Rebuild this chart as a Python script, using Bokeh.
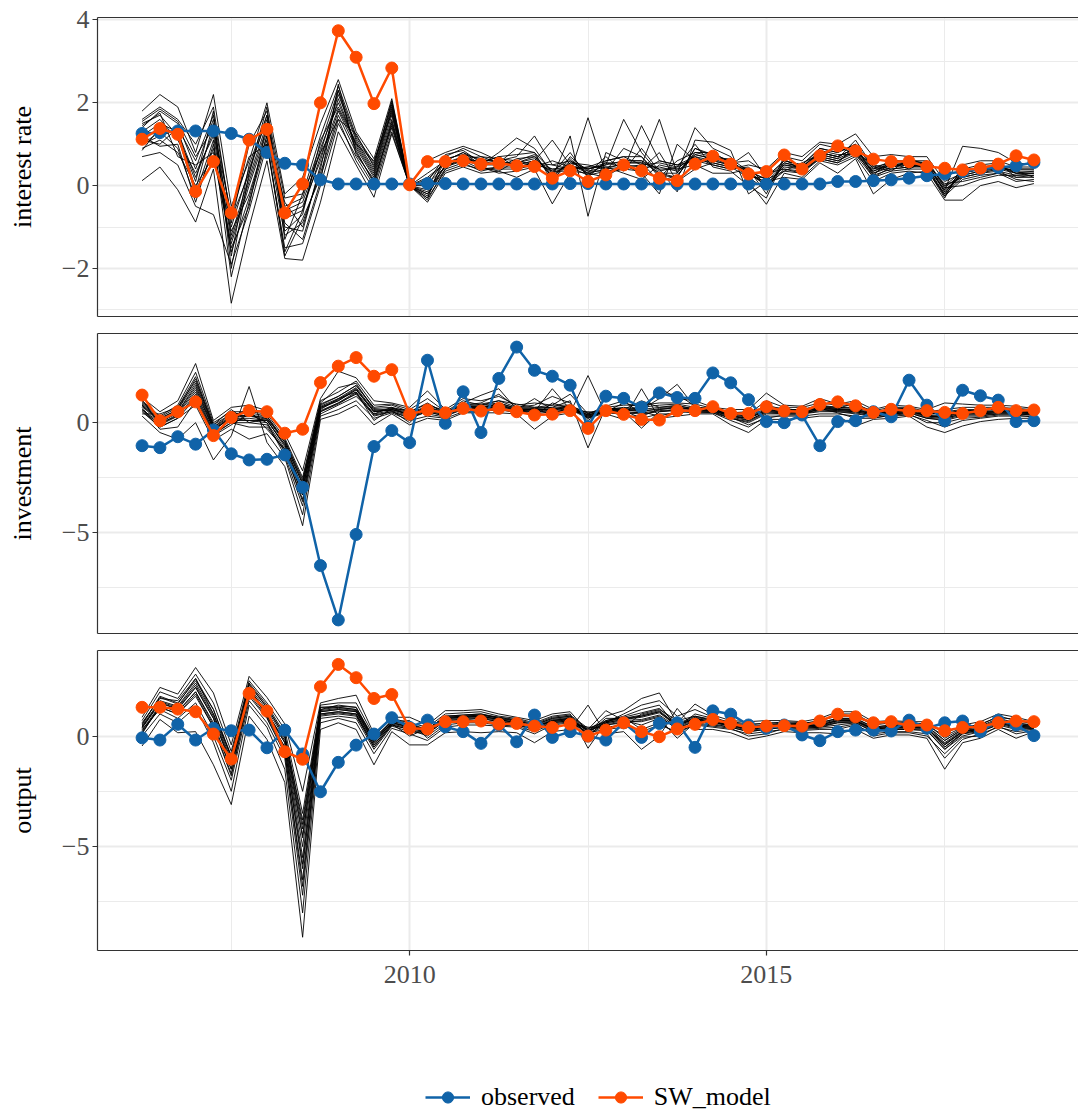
import numpy as np
from bokeh.plotting import figure
from bokeh.models import (Range1d, FixedTicker, LinearAxis, Legend, LegendItem,
                          CustomJSTickFormatter)
from bokeh.layouts import column
from bokeh.embed import file_html
from bokeh.resources import INLINE

# ---------------- data ----------------
quarters = np.arange(2006.25, 2018.76, 0.25)   # 2006Q2 ... 2018Q4 (51 quarters)

rate_observed = [1.26, 1.28, 1.32, 1.32, 1.32, 1.26, 1.12, 0.80, 0.54, 0.50, 0.14, 0.04, 0.04, 0.04, 0.04, 0.04,
                 0.05, 0.05, 0.04, 0.04, 0.04, 0.04, 0.04, 0.04, 0.05, 0.05, 0.04, 0.04, 0.04, 0.04, 0.04, 0.04, 0.04, 0.04,
                 0.04, 0.04, 0.04, 0.04, 0.04,
                 0.10, 0.10, 0.12, 0.14, 0.18, 0.24, 0.28, 0.34, 0.40, 0.44, 0.48, 0.56]
rate_sw = [1.12, 1.38, 1.24, -0.14, 0.58, -0.66, 1.10, 1.36, -0.66, 0.04, 2.00, 3.74, 3.10, 1.98, 2.84, 0.02,
           0.58, 0.58, 0.60, 0.52, 0.54, 0.48, 0.46, 0.18, 0.36, 0.10, 0.26, 0.50, 0.36, 0.18, 0.12, 0.52, 0.71, 0.52, 0.28,
           0.34, 0.74, 0.40, 0.72, 0.96, 0.84, 0.64, 0.58, 0.58, 0.46, 0.42, 0.38, 0.42, 0.52, 0.72, 0.62]

inv_observed = [-1.05, -1.14, -0.64, -0.98, -0.33, -1.42, -1.70, -1.67, -1.47, -2.95, -6.52, -9.00, -5.10, -1.09, -0.36, -0.91,
                2.85, -0.03, 1.41, -0.45, 2.02, 3.45, 2.39, 2.12, 1.71, -0.18, 1.21, 1.11, 0.70, 1.36, 1.15, 1.11, 2.27, 1.82, 1.05,
                0.05, 0.00, 0.35, -1.05, 0.05, 0.09, 0.50, 0.27, 1.94, 0.80, 0.09, 1.48, 1.23, 1.03, 0.05, 0.09]
inv_sw = [1.26, 0.09, 0.50, 0.95, -0.59, 0.24, 0.55, 0.50, -0.48, -0.30, 1.83, 2.58, 2.97, 2.12, 2.42, 0.39,
          0.58, 0.45, 0.65, 0.53, 0.65, 0.50, 0.35, 0.39, 0.55, -0.26, 0.55, 0.38, 0.15, 0.12, 0.55, 0.55, 0.73, 0.42, 0.42,
          0.73, 0.53, 0.50, 0.83, 0.95, 0.77, 0.47, 0.61, 0.53, 0.55, 0.47, 0.42, 0.55, 0.70, 0.55, 0.58]

out_observed = [-0.08, -0.18, 0.53, -0.18, 0.35, 0.24, 0.27, -0.53, 0.27, -0.81, -2.52, -1.19, -0.41, 0.09, 0.83, 0.39,
                0.72, 0.42, 0.20, -0.33, 0.50, -0.26, 0.95, -0.06, 0.20, 0.00, -0.18, 0.60, -0.06, 0.57, 0.60, -0.51, 1.14, 0.99, 0.50,
                0.35, 0.50, 0.05, -0.21, 0.20, 0.27, 0.27, 0.23, 0.72, 0.35, 0.60, 0.68, 0.20, 0.72, 0.50, 0.02]
out_sw = [1.30, 1.30, 1.22, 1.10, 0.09, -1.04, 1.93, 1.13, -0.71, -1.05, 2.23, 3.24, 2.64, 1.70, 1.88, 0.35,
          0.32, 0.65, 0.65, 0.68, 0.54, 0.57, 0.45, 0.39, 0.54, 0.00, 0.27, 0.60, 0.20, -0.03, 0.32, 0.53, 0.75, 0.57, 0.39,
          0.45, 0.47, 0.45, 0.68, 0.99, 0.87, 0.60, 0.65, 0.47, 0.50, 0.24, 0.39, 0.42, 0.60, 0.68, 0.65]

# simulated draws: one row per quarter, one column per draw (outer draws)
rate_draws = [
    [1.8, 0.12, 1.4, 1.0, 1.6, 0.7, 1.2, 0.9, 1.5, 1.1],
    [2.2, 0.45, 1.8, 1.3, 1.9, 0.8, 1.5, 1.1, 1.7, 1.0],
    [1.9, -0.1, 1.5, 0.9, 1.6, 0.5, 1.3, 0.8, 1.2, 1.4],
    [0.8, -0.88, 0.4, -0.3, 1.0, -0.5, 0.2, 0.0, -0.2, 0.6],
    [2.2, 0.4, 1.6, 0.9, 1.9, -0.7, 1.3, 0.7, 1.1, 1.7],
    [-0.5, -2.84, -1.2, -1.6, -0.9, -1.9, -1.0, -1.4, -2.2, -0.8],
    [0.6, -1.0, 0.2, -0.3, 1.0, -0.6, 0.4, 0.0, -0.4, 0.3],
    [2.0, 0.6, 1.5, 1.2, 1.8, 1.0, 1.6, 1.3, 1.1, 1.7],
    [-0.2, -1.76, -0.6, -1.2, -0.3, -1.5, -0.8, -1.0, -1.7, -0.5],
    [0.2, -1.8, -0.4, -0.9, -0.2, -1.4, -0.6, -1.1, -0.8, -0.3],
    [1.5, -0.4, 0.8, 0.3, 1.2, 0.0, 0.9, 0.5, 0.2, 1.0],
    [2.56, 1.3, 2.2, 1.7, 2.4, 1.5, 2.0, 1.8, 1.6, 2.3],
    [1.3, 0.5, 1.1, 0.8, 1.2, 0.7, 1.0, 0.9, 0.6, 1.15],
    [0.65, -0.28, 0.4, 0.1, 0.55, 0.0, 0.3, 0.2, -0.1, 0.5],
    [2.1, 1.25, 1.9, 1.5, 2.0, 1.4, 1.8, 1.6, 1.3, 1.95],
    [0.0, 0.0, 0.0, 0.0, 0.0, 0.0, 0.0, 0.0, 0.0, 0.0],
    [0.6, -0.4, 0.3, -0.2, 0.1, -0.3, 0.2, -0.1, 0.0, -0.35],
    [0.8, 0.3, 0.6, 0.5, 0.7, 0.35, 0.55, 0.45, 0.65, 0.4],
    [0.95, 0.45, 0.8, 0.6, 0.9, 0.5, 0.7, 0.65, 0.75, 0.55],
    [0.8, 0.3, 0.5, 0.6, 0.7, 0.4, 0.55, 0.45, 0.65, 0.35],
    [0.6, 0.35, 0.8, 0.5, 0.65, 0.4, 0.7, 0.3, 0.55, 0.45],
    [0.7, 0.2, 1.15, 0.5, 0.6, 0.4, 0.75, 0.35, 0.55, 0.45],
    [1.2, 0.4, 0.9, 0.6, 0.75, 0.5, 0.8, 0.45, 0.7, 0.55],
    [0.5, -0.44, 0.3, 1.1, 0.2, 0.4, 0.1, 0.6, 0.25, 0.35],
    [0.6, 0.3, 0.8, 0.5, 1.2, 0.4, 0.7, 0.45, 0.55, 0.35],
    [0.4, 1.64, 0.2, 0.3, -0.74, 0.45, 0.35, 0.25, 0.5, 0.3],
    [0.5, 0.3, 0.6, 0.2, 0.8, 0.45, 0.35, 0.55, 0.4, 0.7],
    [1.6, 0.4, 0.7, 0.5, 0.6, 0.3, 0.9, 0.45, 0.55, 0.35],
    [0.8, 1.45, 0.5, 0.3, 0.6, 0.15, 0.7, 0.4, 0.55, 0.9],
    [0.3, 0.6, 1.6, -0.2, 0.4, 0.5, 0.2, 0.8, 0.1, 0.35],
    [0.2, 0.5, 0.3, 1.0, -0.15, 0.4, 0.6, 0.1, 0.25, 0.45],
    [0.9, 0.7, 1.4, 0.6, 1.1, 0.5, 0.8, 0.4, 0.75, 1.0],
    [0.7, 0.5, 0.9, 0.6, 1.05, 0.3, 0.8, 0.55, 0.65, 0.45],
    [0.6, 0.4, 0.7, 0.5, 0.85, 0.3, 0.55, 0.45, 0.65, 0.35],
    [0.3, 0.5, 0.1, 0.8, -0.2, 0.4, 0.6, 0.2, 0.35, 0.0],
    [0.0, 0.4, -0.45, 0.2, 0.1, -0.2, 0.3, -0.1, 0.15, -0.3],
    [0.5, 0.8, 0.3, 0.6, 0.2, 0.7, 0.4, 0.55, 0.35, 0.65],
    [0.4, 0.7, 0.2, 0.5, 0.15, 0.6, 0.3, 0.45, 0.55, 0.35],
    [0.8, 1.05, 0.6, 0.9, 0.55, 1.0, 0.7, 0.85, 0.75, 0.65],
    [0.7, 1.0, 0.5, 0.8, 0.3, 0.9, 0.6, 0.75, 0.65, 0.55],
    [0.9, 1.25, 0.7, 1.0, 0.65, 0.8, 0.85, 0.75, 1.1, 0.95],
    [0.3, 0.7, 0.1, 0.4, -0.2, 0.5, 0.2, 0.35, 0.45, 0.25],
    [0.5, 0.75, 0.3, 0.6, 0.15, 0.4, 0.45, 0.55, 0.35, 0.65],
    [0.5, 0.7, 0.35, 0.6, 0.3, 0.45, 0.55, 0.4, 0.65, 0.5],
    [0.45, 0.7, 0.3, 0.55, 0.35, 0.5, 0.4, 0.6, 0.5, 0.45],
    [-0.1, 0.1, -0.35, 0.0, -0.2, 0.05, -0.3, -0.05, -0.15, -0.25],
    [0.95, 0.3, -0.35, 0.2, 0.4, 0.1, 0.5, 0.0, 0.25, 0.35],
    [0.9, 0.4, 0.0, 0.3, 0.5, 0.2, 0.6, 0.15, 0.35, 0.45],
    [0.8, 0.5, 0.1, 0.4, 0.55, 0.3, 0.6, 0.25, 0.45, 0.35],
    [0.55, 0.3, -0.05, 0.4, 0.2, 0.1, 0.45, 0.25, 0.35, 0.15],
    [0.5, 0.35, 0.05, 0.4, 0.25, 0.15, 0.45, 0.3, 0.2, 0.1],
]

# draws near the centre of the bundle
rate_draws_core = [
    [1.3, 1.0, 1.45, 0.85, 1.2, 1.55], [1.6, 1.2, 1.75, 1.4, 0.95, 1.85], [1.1, 1.35, 0.7, 1.25, 1.0, 1.55],
    [0.3, -0.1, 0.5, 0.1, -0.4, 0.7], [1.2, 1.5, 0.8, 1.8, 1.0, 1.4], [-1.3, -1.7, -1.1, -2.0, -1.5, -0.7],
    [0.1, 0.5, -0.2, 0.3, -0.5, 0.7], [1.4, 1.7, 1.2, 1.9, 1.5, 1.0], [-0.7, -1.1, -0.4, -1.3, -0.9, -1.6],
    [-0.5, -0.7, -1.0, -0.2, -1.3, -0.6], [0.6, 1.1, 0.4, 0.8, 0.1, 0.7], [2.1, 1.9, 2.3, 1.6, 2.45, 1.85],
    [0.95, 1.05, 0.85, 1.25, 0.75, 1.0], [0.25, 0.35, 0.05, 0.45, 0.15, 0.6], [1.7, 1.85, 1.55, 2.05, 1.45, 1.75],
    [0.0, 0.0, 0.0, 0.0, 0.0, 0.0], [-0.25, -0.15, 0.05, -0.3, 0.15, -0.2], [0.5, 0.6, 0.45, 0.75, 0.55, 0.4],
    [0.7, 0.8, 0.6, 0.85, 0.65, 0.75], [0.5, 0.6, 0.4, 0.55, 0.7, 0.45], [0.5, 0.6, 0.45, 0.7, 0.55, 0.35],
    [0.55, 0.5, 0.65, 0.45, 0.9, 0.6], [0.65, 0.6, 0.7, 0.55, 0.8, 0.5], [0.3, 0.4, 0.2, 0.5, 0.35, 0.15],
    [0.5, 0.45, 0.6, 0.4, 0.65, 0.55], [0.35, 0.4, 0.3, 0.45, 0.25, 0.4], [0.45, 0.5, 0.4, 0.6, 0.35, 0.55],
    [0.5, 0.6, 0.45, 0.7, 0.4, 0.55], [0.45, 0.6, 0.5, 0.7, 0.35, 0.55], [0.45, 0.3, 0.55, 0.25, 0.6, 0.4],
    [0.35, 0.3, 0.45, 0.2, 0.5, 0.4], [0.7, 0.8, 0.65, 0.9, 0.6, 0.75], [0.6, 0.7, 0.55, 0.75, 0.5, 0.65],
    [0.5, 0.55, 0.45, 0.6, 0.4, 0.5], [0.3, 0.25, 0.4, 0.2, 0.45, 0.35], [0.05, 0.1, -0.05, 0.2, 0.0, 0.15],
    [0.45, 0.5, 0.4, 0.6, 0.35, 0.55], [0.4, 0.45, 0.35, 0.5, 0.3, 0.45], [0.75, 0.8, 0.7, 0.9, 0.65, 0.8],
    [0.65, 0.7, 0.6, 0.8, 0.55, 0.7], [0.85, 0.9, 0.8, 1.0, 0.75, 0.9], [0.3, 0.35, 0.25, 0.45, 0.2, 0.4],
    [0.45, 0.5, 0.4, 0.55, 0.35, 0.5], [0.5, 0.55, 0.45, 0.6, 0.4, 0.55], [0.5, 0.55, 0.45, 0.6, 0.4, 0.5],
    [-0.1, -0.15, -0.2, 0.0, -0.25, -0.05], [0.25, 0.3, 0.2, 0.35, 0.15, 0.3], [0.35, 0.4, 0.3, 0.45, 0.25, 0.4],
    [0.4, 0.45, 0.35, 0.5, 0.3, 0.45], [0.3, 0.35, 0.25, 0.4, 0.2, 0.3], [0.3, 0.35, 0.25, 0.4, 0.2, 0.3],
]

inv_draws = [
    [1.15, 0.3, 0.9, 0.6, 1.0, 0.5, 0.8, 0.7, 0.4, 1.05],
    [0.5, -0.45, 0.2, 0.0, 0.3, -0.2, 0.1, -0.3, 0.4, -0.1],
    [1.0, -0.75, 0.6, 0.3, 0.8, 0.2, 0.5, -0.2, 0.7, 0.4],
    [2.7, 0.0, 2.0, 1.2, 2.3, 0.8, 1.6, 1.0, 1.9, 1.4],
    [0.1, -1.7, -0.2, -0.5, 0.0, -0.8, -0.3, -0.6, -0.1, -0.4],
    [0.7, -0.6, 0.4, 0.0, 0.5, -0.3, 0.2, -0.1, 0.6, 0.3],
    [0.8, 1.65, 0.3, -0.2, 0.5, -0.75, 0.1, 0.4, 0.0, 0.6],
    [0.55, -0.9, 0.3, -0.2, 0.4, -0.5, 0.1, 0.0, 0.2, -0.3],
    [-0.5, -2.0, -0.9, -1.3, -0.7, -1.6, -1.0, -1.5, -0.8, -1.2],
    [-2.2, -4.7, -2.8, -3.5, -2.5, -4.2, -3.0, -3.8, -2.6, -3.3],
    [1.1, 0.15, 0.8, 0.5, 1.0, 0.3, 0.7, 0.4, 0.9, 0.6],
    [2.35, 0.4, 1.2, 0.9, 1.4, 0.6, 1.0, 0.8, 1.6, 1.1],
    [2.05, 0.8, 1.7, 1.3, 1.9, 1.0, 1.5, 1.2, 1.8, 1.4],
    [1.0, -0.1, 0.7, 0.3, 0.8, 0.2, 0.5, 0.4, 0.6, 0.1],
    [0.9, 0.4, 0.8, 0.5, 0.85, 0.45, 0.6, 0.7, 0.55, 0.65],
    [0.7, -0.1, 0.5, 0.2, 0.6, 0.1, 0.4, 0.3, 0.0, 0.55],
    [1.45, 0.2, 0.9, 0.5, 1.1, 0.3, 0.7, 0.6, 0.8, 0.4],
    [0.6, 0.1, 0.4, 0.3, 0.5, 0.2, 0.45, 0.35, 0.55, 0.25],
    [1.1, 0.45, 0.9, 0.6, 1.0, 0.5, 0.8, 0.7, 0.65, 0.75],
    [1.0, 0.45, 1.25, 0.6, 0.8, 0.5, 0.9, 0.7, 0.65, 0.75],
    [1.2, 0.45, 1.55, 0.7, 1.0, 0.6, 1.3, 0.8, 0.9, 0.65],
    [0.8, 0.4, 0.6, 0.5, 0.85, 0.45, 0.7, 0.55, 0.65, 0.5],
    [0.9, -0.3, 1.1, 0.5, 0.7, 0.4, 0.8, 0.6, 0.3, 0.65],
    [0.8, 0.3, 0.6, 1.55, 0.7, 0.5, 1.2, 0.4, 0.9, 0.55],
    [1.3, 0.45, 0.8, 0.6, 1.0, 0.5, 0.9, 0.7, 0.65, 0.75],
    [0.4, 2.15, 0.2, 0.3, -1.15, 0.5, 0.1, 0.35, 0.25, 0.45],
    [0.75, 0.4, 0.6, 0.5, 0.7, 0.45, 0.65, 0.55, 0.5, 0.6],
    [1.0, 0.15, 0.7, 0.5, 0.8, 0.4, 0.6, 0.3, 0.9, 0.55],
    [0.4, 1.55, 0.6, -0.25, 0.8, 0.5, 1.0, 0.3, 0.7, 0.2],
    [1.6, 0.2, 1.1, 0.5, 0.9, 0.3, 0.7, 0.6, 1.3, 0.4],
    [1.1, 0.3, 1.75, 0.6, 0.9, 0.5, 0.8, 0.7, 1.3, 0.4],
    [1.0, 0.4, 0.7, 0.5, 0.85, 0.45, 0.6, 0.55, 0.75, 0.65],
    [0.7, 0.4, 0.6, 0.5, 0.65, 0.45, 0.55, 0.6, 0.5, 0.7],
    [0.6, -0.1, 0.4, 0.2, 0.5, 0.1, 0.3, 0.35, 0.45, 0.25],
    [0.6, -0.45, 0.3, 0.0, 0.4, -0.2, 0.2, 0.1, 0.5, -0.1],
    [1.35, 0.15, 0.8, 0.4, 1.0, 0.3, 0.6, 0.5, 0.7, 0.2],
    [0.8, 0.15, 0.6, 0.4, 0.7, 0.3, 0.5, 0.45, 0.65, 0.35],
    [0.75, 0.2, 0.6, 0.4, 0.7, 0.3, 0.5, 0.45, 0.55, 0.35],
    [1.1, 0.3, 0.8, 0.5, 0.9, 0.4, 0.7, 0.6, 0.75, 0.65],
    [0.85, 0.3, 0.7, 0.5, 0.8, 0.4, 0.6, 0.55, 0.65, 0.45],
    [1.0, -0.15, 0.7, 0.4, 0.8, 0.3, 0.6, 0.5, 0.9, 0.2],
    [0.6, 0.15, 0.5, 0.3, 0.55, 0.25, 0.4, 0.35, 0.45, 0.2],
    [0.8, 0.2, 0.6, 0.4, 0.7, 0.3, 0.5, 0.45, 0.65, 0.35],
    [0.75, 0.3, 0.6, 0.45, 0.7, 0.35, 0.55, 0.5, 0.65, 0.4],
    [0.6, -0.2, 0.4, 0.2, 0.5, 0.1, 0.3, 0.35, 0.45, 0.0],
    [0.9, -0.45, 0.5, 0.1, 0.6, -0.2, 0.3, 0.2, 0.4, 0.0],
    [0.85, -0.15, 0.6, 0.3, 0.7, 0.1, 0.5, 0.4, 0.55, 0.2],
    [0.8, 0.05, 0.6, 0.3, 0.7, 0.2, 0.5, 0.4, 0.55, 0.25],
    [0.8, 0.15, 0.6, 0.4, 0.7, 0.3, 0.5, 0.45, 0.65, 0.35],
    [0.75, 0.2, 0.55, 0.4, 0.65, 0.3, 0.5, 0.45, 0.6, 0.35],
    [0.65, 0.2, 0.5, 0.35, 0.6, 0.3, 0.45, 0.4, 0.55, 0.25],
]

inv_draws_core = [
    [0.75, 0.85, 0.6, 0.95, 0.55, 0.8], [0.0, 0.15, -0.1, 0.25, -0.2, 0.05], [0.45, 0.6, 0.3, 0.7, 0.2, 0.5],
    [1.5, 1.8, 1.3, 2.1, 1.1, 1.7], [-0.3, -0.2, -0.45, -0.1, -0.55, -0.25], [0.2, 0.3, 0.1, 0.4, 0.0, 0.25],
    [0.2, 0.35, 0.1, 0.45, 0.0, 0.3], [0.1, 0.2, 0.0, 0.3, -0.1, 0.15], [-1.0, -0.9, -1.2, -0.8, -1.3, -1.1],
    [-3.0, -2.8, -3.3, -2.7, -3.6, -3.1], [0.65, 0.75, 0.55, 0.85, 0.5, 0.7], [1.0, 1.1, 0.9, 1.2, 0.85, 1.05],
    [1.5, 1.6, 1.4, 1.7, 1.35, 1.55], [0.5, 0.55, 0.4, 0.65, 0.35, 0.5], [0.6, 0.65, 0.55, 0.7, 0.5, 0.6],
    [0.35, 0.45, 0.3, 0.5, 0.25, 0.4], [0.65, 0.75, 0.55, 0.85, 0.5, 0.7], [0.4, 0.45, 0.35, 0.5, 0.3, 0.4],
    [0.75, 0.8, 0.7, 0.85, 0.65, 0.75], [0.75, 0.8, 0.7, 0.85, 0.65, 0.7], [0.8, 0.9, 0.75, 1.0, 0.7, 0.85],
    [0.6, 0.65, 0.55, 0.7, 0.5, 0.6], [0.6, 0.65, 0.55, 0.7, 0.5, 0.6], [0.6, 0.7, 0.55, 0.8, 0.5, 0.65],
    [0.7, 0.75, 0.65, 0.8, 0.6, 0.7], [0.3, 0.35, 0.25, 0.4, 0.2, 0.35], [0.55, 0.6, 0.5, 0.65, 0.45, 0.55],
    [0.55, 0.6, 0.5, 0.65, 0.45, 0.6], [0.55, 0.6, 0.45, 0.7, 0.4, 0.5], [0.6, 0.7, 0.55, 0.8, 0.5, 0.65],
    [0.7, 0.75, 0.6, 0.85, 0.55, 0.7], [0.6, 0.65, 0.55, 0.7, 0.5, 0.6], [0.55, 0.6, 0.5, 0.65, 0.45, 0.55],
    [0.3, 0.35, 0.25, 0.4, 0.2, 0.3], [0.2, 0.25, 0.1, 0.3, 0.05, 0.2], [0.55, 0.6, 0.5, 0.65, 0.45, 0.55],
    [0.5, 0.55, 0.45, 0.6, 0.4, 0.5], [0.5, 0.55, 0.45, 0.6, 0.4, 0.5], [0.65, 0.7, 0.6, 0.75, 0.55, 0.65],
    [0.6, 0.65, 0.55, 0.7, 0.5, 0.6], [0.55, 0.6, 0.5, 0.65, 0.45, 0.55], [0.4, 0.45, 0.35, 0.5, 0.3, 0.4],
    [0.5, 0.55, 0.45, 0.6, 0.4, 0.5], [0.55, 0.6, 0.5, 0.65, 0.45, 0.55], [0.3, 0.35, 0.25, 0.4, 0.2, 0.3],
    [0.3, 0.35, 0.2, 0.45, 0.15, 0.25], [0.45, 0.5, 0.4, 0.55, 0.35, 0.45], [0.45, 0.5, 0.4, 0.55, 0.35, 0.45],
    [0.5, 0.55, 0.45, 0.6, 0.4, 0.5], [0.5, 0.55, 0.45, 0.6, 0.4, 0.5], [0.45, 0.5, 0.4, 0.55, 0.35, 0.45],
]

out_draws = [
    [0.85, -0.45, 0.5, 0.2, 0.7, 0.0, 0.4, 0.3, 0.6, 0.1],
    [2.2, 0.75, 1.8, 1.3, 2.0, 1.0, 1.5, 1.2, 1.7, 1.4],
    [1.9, 0.15, 1.5, 1.0, 1.7, 0.6, 1.2, 0.8, 1.6, 1.1],
    [3.1, 0.2, 2.5, 1.8, 2.8, 1.3, 2.2, 1.5, 2.6, 2.0],
    [1.95, -1.3, 1.2, 0.4, 1.5, -0.3, 0.8, 0.0, 1.0, 0.5],
    [-0.4, -3.1, -1.0, -1.8, -0.7, -2.5, -1.3, -2.0, -0.9, -1.5],
    [2.7, 0.9, 2.3, 1.8, 2.5, 1.4, 2.0, 1.6, 2.4, 2.1],
    [1.75, -0.15, 1.3, 0.8, 1.5, 0.4, 1.0, 0.6, 1.4, 0.9],
    [0.55, -2.1, 0.0, -0.8, 0.3, -1.5, -0.3, -1.0, 0.1, -0.5],
    [-2.5, -9.1, -4.5, -6.5, -3.5, -8.0, -5.5, -7.2, -4.0, -6.0],
    [1.5, 0.3, 1.2, 0.9, 1.4, 0.6, 1.1, 0.8, 1.3, 1.0],
    [1.7, 0.6, 1.4, 1.0, 1.5, 0.8, 1.2, 0.9, 1.3, 1.1],
    [1.85, 0.3, 1.3, 0.9, 1.5, 0.6, 1.1, 0.8, 1.2, 1.0],
    [0.1, -1.3, -0.2, -0.5, 0.0, -0.8, -0.3, -0.6, -0.1, -0.4],
    [0.85, 0.2, 0.7, 0.5, 0.8, 0.35, 0.6, 0.45, 0.65, 0.55],
    [0.85, -0.4, 0.5, 0.3, 0.6, 0.1, 0.4, 0.2, 0.7, 0.0],
    [0.5, -0.4, 0.3, 0.0, 0.4, -0.2, 0.2, 0.1, -0.1, 0.35],
    [1.15, 0.15, 0.9, 0.6, 1.0, 0.4, 0.8, 0.7, 0.5, 0.85],
    [1.15, 0.2, 0.95, 0.7, 1.05, 0.5, 0.85, 0.75, 0.6, 0.9],
    [1.2, 0.15, 1.0, 0.7, 1.1, 0.5, 0.9, 0.8, 0.6, 0.95],
    [1.0, 0.2, 0.8, 0.6, 0.9, 0.45, 0.75, 0.65, 0.5, 0.85],
    [0.85, 0.15, 0.7, 0.5, 0.8, 0.4, 0.6, 0.55, 0.45, 0.75],
    [0.7, -0.3, 0.5, 0.3, 0.6, 0.1, 0.4, 0.45, 0.2, 0.55],
    [1.0, 0.2, 0.8, 0.6, 0.9, 0.5, 0.7, 0.65, 0.55, 0.85],
    [1.1, 0.3, 0.9, 0.7, 1.0, 0.6, 0.8, 0.75, 0.65, 0.95],
    [0.2, 1.4, 0.0, 0.3, -0.55, 0.4, 0.1, 0.25, 0.15, 0.35],
    [0.9, 0.1, 0.7, 1.15, 0.6, 0.4, 0.8, 0.5, 0.3, 0.65],
    [1.15, 0.2, 0.9, 0.7, 1.0, 0.5, 0.8, 0.6, 0.4, 0.85],
    [1.7, -0.6, 1.2, 0.5, 1.4, 0.2, 0.9, 0.7, 1.0, 0.3],
    [1.95, 0.0, 1.4, 0.8, 1.6, 0.5, 1.1, 0.9, 1.2, 0.6],
    [0.6, 1.25, 0.4, -0.1, 0.9, 0.2, 0.5, 0.3, 0.7, 0.1],
    [1.45, 0.3, 1.0, 0.6, 1.2, 0.5, 0.8, 0.7, 0.9, 0.55],
    [0.95, 0.3, 0.8, 0.5, 0.85, 0.4, 0.6, 0.65, 0.7, 0.45],
    [0.7, 0.15, 0.55, 0.4, 0.6, 0.3, 0.5, 0.45, 0.65, 0.35],
    [0.65, -0.15, 0.45, 0.2, 0.5, 0.1, 0.3, 0.35, 0.55, 0.0],
    [0.7, 0.0, 0.5, 0.3, 0.6, 0.2, 0.4, 0.45, 0.55, 0.1],
    [0.7, 0.2, 0.55, 0.4, 0.6, 0.3, 0.5, 0.45, 0.65, 0.35],
    [0.65, 0.15, 0.5, 0.35, 0.55, 0.25, 0.45, 0.4, 0.6, 0.3],
    [0.8, 0.15, 0.6, 0.4, 0.7, 0.3, 0.5, 0.45, 0.65, 0.35],
    [1.1, 0.1, 0.8, 0.5, 0.9, 0.3, 0.7, 0.6, 1.0, 0.4],
    [1.1, 0.3, 0.8, 0.6, 0.9, 0.5, 0.7, 0.65, 1.0, 0.55],
    [0.65, -0.1, 0.4, 0.2, 0.5, 0.1, 0.3, 0.35, 0.55, 0.0],
    [0.7, 0.05, 0.5, 0.3, 0.6, 0.2, 0.4, 0.45, 0.65, 0.15],
    [0.65, 0.05, 0.5, 0.3, 0.55, 0.2, 0.4, 0.45, 0.6, 0.15],
    [0.65, -0.1, 0.45, 0.25, 0.5, 0.1, 0.35, 0.4, 0.55, 0.0],
    [0.1, -1.5, -0.2, -0.6, 0.0, -1.0, -0.4, -0.5, -0.1, -0.8],
    [0.5, -0.3, 0.3, 0.0, 0.4, -0.15, 0.2, 0.1, 0.35, -0.05],
    [0.65, -0.1, 0.45, 0.2, 0.5, 0.1, 0.35, 0.3, 0.55, 0.0],
    [1.0, 0.3, 0.8, 0.5, 0.9, 0.4, 0.7, 0.6, 0.85, 0.45],
    [0.85, -0.1, 0.6, 0.3, 0.7, 0.2, 0.5, 0.4, 0.75, 0.1],
    [0.65, 0.2, 0.5, 0.35, 0.55, 0.3, 0.45, 0.4, 0.6, 0.25],
]

out_draws_core = [
    [0.35, 0.45, 0.25, 0.55, 0.15, 0.4], [1.5, 1.6, 1.4, 1.75, 1.3, 1.55], [1.25, 1.35, 1.1, 1.45, 1.0, 1.3],
    [2.2, 2.4, 2.0, 2.6, 1.9, 2.3], [0.8, 1.0, 0.6, 1.2, 0.4, 0.9], [-1.3, -1.1, -1.5, -0.9, -1.7, -1.2],
    [2.1, 2.2, 2.0, 2.35, 1.9, 2.15], [1.1, 1.2, 0.95, 1.3, 0.85, 1.05], [-0.3, -0.1, -0.5, 0.0, -0.7, -0.2],
    [-5.0, -4.2, -5.8, -3.8, -6.8, -4.6], [1.1, 1.2, 1.0, 1.3, 0.95, 1.15], [1.2, 1.3, 1.1, 1.35, 1.05, 1.25],
    [1.1, 1.2, 1.0, 1.3, 0.95, 1.15], [-0.3, -0.2, -0.4, -0.1, -0.5, -0.25], [0.6, 0.65, 0.55, 0.7, 0.5, 0.6],
    [0.4, 0.5, 0.35, 0.55, 0.3, 0.45], [0.2, 0.25, 0.15, 0.3, 0.1, 0.2], [0.8, 0.85, 0.75, 0.9, 0.7, 0.8],
    [0.85, 0.9, 0.8, 0.95, 0.75, 0.85], [0.9, 0.95, 0.85, 1.0, 0.8, 0.9], [0.75, 0.8, 0.7, 0.85, 0.65, 0.75],
    [0.6, 0.65, 0.55, 0.7, 0.5, 0.6], [0.4, 0.45, 0.35, 0.5, 0.3, 0.4], [0.7, 0.75, 0.65, 0.8, 0.6, 0.7],
    [0.8, 0.85, 0.75, 0.9, 0.7, 0.8], [0.2, 0.25, 0.1, 0.3, 0.05, 0.2], [0.6, 0.65, 0.55, 0.7, 0.5, 0.6],
    [0.75, 0.8, 0.7, 0.85, 0.65, 0.75], [0.85, 0.95, 0.75, 1.05, 0.65, 0.9], [1.05, 1.15, 0.95, 1.25, 0.85, 1.1],
    [0.45, 0.5, 0.4, 0.55, 0.35, 0.45], [0.8, 0.85, 0.75, 0.9, 0.7, 0.8], [0.65, 0.7, 0.6, 0.75, 0.55, 0.65],
    [0.5, 0.55, 0.45, 0.6, 0.4, 0.5], [0.3, 0.35, 0.25, 0.4, 0.2, 0.3], [0.4, 0.45, 0.35, 0.5, 0.3, 0.4],
    [0.5, 0.55, 0.45, 0.6, 0.4, 0.5], [0.45, 0.5, 0.4, 0.55, 0.35, 0.45], [0.5, 0.55, 0.45, 0.6, 0.4, 0.5],
    [0.7, 0.75, 0.65, 0.8, 0.6, 0.7], [0.7, 0.75, 0.65, 0.8, 0.6, 0.7], [0.3, 0.35, 0.25, 0.4, 0.2, 0.3],
    [0.4, 0.45, 0.35, 0.5, 0.3, 0.4], [0.4, 0.45, 0.35, 0.5, 0.3, 0.4], [0.35, 0.4, 0.3, 0.45, 0.25, 0.35],
    [-0.4, -0.3, -0.5, -0.2, -0.6, -0.35], [0.2, 0.25, 0.15, 0.3, 0.1, 0.2], [0.3, 0.35, 0.25, 0.4, 0.2, 0.3],
    [0.65, 0.7, 0.6, 0.75, 0.55, 0.65], [0.45, 0.5, 0.4, 0.55, 0.35, 0.45], [0.4, 0.45, 0.35, 0.5, 0.3, 0.4],
]

x_major = [2010, 2015]
x_minor = [2007.5, 2012.5, 2017.5]

# ---------------- style ----------------
FONT = "Liberation Serif"
BLUE = "#1063A8"
ORANGE = "#FF4A00"
GRID = "#EBEBEB"
BORDER = "#333333"
TICKTXT = "#4D4D4D"
FS = "26px"
W = 1078
LEFT = 97

minus_fmt = "return tick < 0 ? '\u2212' + (-tick) : '' + tick;"


def border_axis():
    return LinearAxis(ticker=FixedTicker(ticks=[]),
                      major_tick_line_color=None, minor_tick_line_color=None,
                      major_label_standoff=0, axis_line_color=BORDER, axis_line_width=1.2)


def panel(label, y_lo, y_hi, majors, minors, obs, sw, draws, core, height, mt, mb, last):
    p = figure(width=W, height=height, x_range=Range1d(2005.625, 2019.375),
               y_range=Range1d(y_lo, y_hi), output_backend="svg", toolbar_location=None,
               min_border_left=LEFT, min_border_right=0, min_border_top=mt, min_border_bottom=mb)
    p.outline_line_color = None
    xt = FixedTicker(ticks=x_major, minor_ticks=x_minor)
    yt = FixedTicker(ticks=majors, minor_ticks=minors)
    p.xgrid.ticker = xt
    p.ygrid.ticker = yt
    for g in (p.xgrid[0], p.ygrid[0]):
        g.grid_line_color = GRID
        g.grid_line_width = 2
        g.minor_grid_line_color = GRID
        g.minor_grid_line_width = 1

    ya = p.yaxis[0]
    ya.ticker = yt
    ya.formatter = CustomJSTickFormatter(code=minus_fmt)
    ya.axis_label = label
    ya.axis_label_text_font = FONT
    ya.axis_label_text_font_size = FS
    ya.axis_label_text_font_style = "normal"
    ya.axis_label_text_color = "black"
    ya.axis_label_standoff = 22
    ya.major_label_text_font = FONT
    ya.major_label_text_font_size = FS
    ya.major_label_text_color = TICKTXT
    ya.major_label_standoff = 3
    ya.major_tick_in = 0
    ya.major_tick_out = 5
    ya.major_tick_line_color = BORDER
    ya.major_tick_line_width = 1.2
    ya.minor_tick_line_color = None
    ya.axis_line_color = BORDER
    ya.axis_line_width = 1.2

    xa = p.xaxis[0]
    xa.minor_tick_line_color = None
    xa.axis_line_color = BORDER
    xa.axis_line_width = 1.2
    if last:
        xa.ticker = xt
        xa.formatter = CustomJSTickFormatter(code="return tick.toFixed(0);")
        xa.major_label_text_font = FONT
        xa.major_label_text_font_size = FS
        xa.major_label_text_color = TICKTXT
        xa.major_label_standoff = 10
        xa.major_tick_in = 0
        xa.major_tick_out = 5
        xa.major_tick_line_color = BORDER
        xa.major_tick_line_width = 1.2
    else:
        xa.ticker = FixedTicker(ticks=[])
        xa.major_label_standoff = 0
        xa.major_tick_line_color = None
    p.add_layout(border_axis(), "above")

    lines = np.hstack([np.array(draws), np.array(core)]).T
    p.multi_line([list(quarters)] * len(lines), [list(l) for l in lines],
                 line_color="black", line_width=0.9)
    p.line(quarters, obs, line_color=BLUE, line_width=2.5)
    p.scatter(quarters, obs, size=12, fill_color=BLUE, line_color=BLUE)
    p.line(quarters, sw, line_color=ORANGE, line_width=2.5)
    p.scatter(quarters, sw, size=12, fill_color=ORANGE, line_color=ORANGE)
    return p


p1 = panel("interest rate", -3.16, 4.06, [-2, 0, 2, 4], [-3, -1, 1, 3],
           rate_observed, rate_sw, rate_draws, rate_draws_core, 324, 17, 8, False)
p2 = panel("investment", -9.62, 4.07, [-5, 0], [-7.5, -2.5, 2.5],
           inv_observed, inv_sw, inv_draws, inv_draws_core, 317, 9, 8, False)
p3 = panel("output", -9.7, 3.87, [-5, 0], [-7.5, -2.5, 2.5],
           out_observed, out_sw, out_draws, out_draws_core, 359, 9, 50, True)

# ---------------- legend ----------------
lg = figure(width=W, height=115, output_backend="svg", toolbar_location=None,
            x_axis_location=None, y_axis_location=None,
            min_border_left=LEFT, min_border_right=0, min_border_top=0, min_border_bottom=0,
            x_range=Range1d(0, 1), y_range=Range1d(0, 1))
lg.outline_line_color = None
lg.xgrid.visible = False
lg.ygrid.visible = False
key_x = [-3.0, -2.0]
key_y = [-3.0, -3.0]
r1 = lg.line(key_x, key_y, line_color=BLUE, line_width=2.5)
r2 = lg.scatter(key_x, key_y, size=12, fill_color=BLUE, line_color=BLUE)
r3 = lg.line(key_x, key_y, line_color=ORANGE, line_width=2.5)
r4 = lg.scatter(key_x, key_y, size=12, fill_color=ORANGE, line_color=ORANGE)
legend = Legend(items=[LegendItem(label="observed", renderers=[r1, r2]),
                       LegendItem(label="SW_model", renderers=[r3, r4])],
                orientation="horizontal", location=(425 - LEFT, 3),
                label_text_font=FONT, label_text_font_size=FS, label_text_color="black",
                glyph_width=45, glyph_height=28, label_standoff=11, spacing=23,
                padding=0, margin=0, border_line_color=None, background_fill_alpha=0)
lg.add_layout(legend)

layout = column(p1, p2, p3, lg, spacing=0)
open("out.html", "w").write(file_html(layout, INLINE))
